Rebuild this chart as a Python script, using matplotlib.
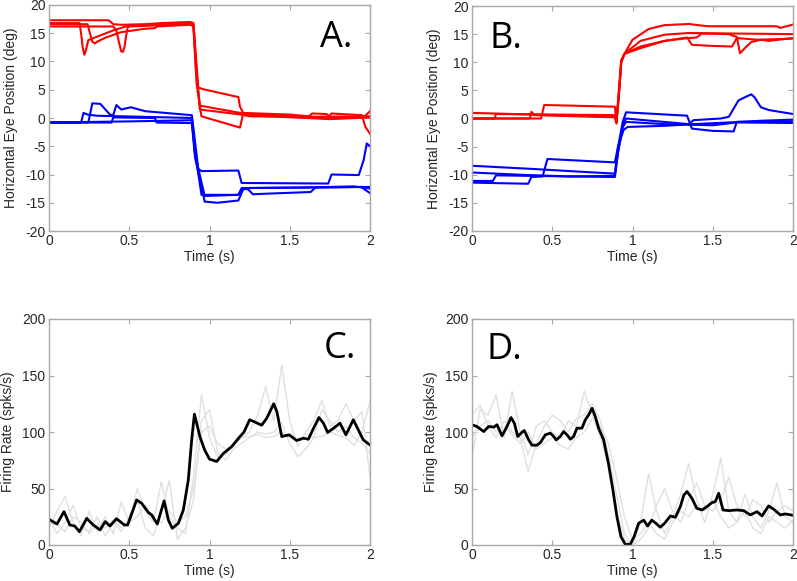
import numpy as np
import matplotlib
matplotlib.use("Agg")
import matplotlib.pyplot as plt

plt.rcParams['font.family'] = ['Liberation Sans', 'DejaVu Sans']

# ---------------- Panel A: eye position traces (deg) ----------------
ra1_t = [0, 0.37, 0.385, 0.40, 0.45, 0.60, 0.70, 0.88, 0.90, 0.915, 0.93, 0.96, 1.18, 1.19, 1.21, 1.50, 1.62, 1.64, 1.73, 1.75, 1.96, 2.0]
ra1_v = [17.3, 17.3, 17.0, 16.6, 16.5, 16.6, 16.8, 17.0, 16.8, 11.0, 5.4, 5.1, 3.7, 2.0, 0.9, 0.6, 0.3, 0.8, 0.7, 0.1, 0.1, 1.2]
ra2_t = [0, 0.19, 0.20, 0.21, 0.22, 0.23, 0.245, 0.30, 0.40, 0.50, 0.70, 0.88, 0.90, 0.915, 0.94, 1.19, 1.22, 1.50, 1.74, 1.76, 1.95, 1.97, 2.0]
ra2_v = [16.8, 16.8, 15.0, 12.5, 11.2, 12.0, 13.8, 14.4, 15.5, 16.4, 16.6, 16.7, 16.4, 9.0, 2.2, 0.9, 0.7, 0.3, 0.1, 0.8, 0.5, -1.5, -2.8]
ra3_t = [0, 0.24, 0.255, 0.27, 0.285, 0.30, 0.35, 0.45, 0.60, 0.66, 0.67, 0.88, 0.90, 0.92, 0.95, 1.19, 1.21, 1.30, 1.60, 1.75, 2.0]
ra3_v = [16.6, 16.6, 15.0, 13.5, 13.2, 13.5, 14.2, 15.2, 15.8, 15.9, 16.2, 16.5, 16.2, 6.0, 0.3, -1.7, 0.8, 0.4, 0.0, -0.2, 0.1]
ra4_t = [0, 0.40, 0.42, 0.435, 0.45, 0.46, 0.47, 0.48, 0.49, 0.50, 0.60, 0.88, 0.90, 0.92, 0.94, 1.20, 1.25, 1.60, 2.0]
ra4_v = [16.2, 16.2, 15.5, 13.5, 11.8, 11.7, 12.5, 14.5, 16.0, 16.2, 16.3, 16.7, 16.4, 8.0, 1.5, 0.6, 0.3, 0.2, 0.3]

ba1_t = [0, 0.20, 0.215, 0.24, 0.30, 0.60, 0.89, 0.91, 0.95, 1.18, 1.20, 1.60, 1.90, 1.95, 2.0]
ba1_v = [-0.8, -0.8, 0.9, 0.6, 0.4, 0.2, 0.0, -6.0, -13.6, -13.6, -12.4, -12.3, -12.1, -12.3, -13.3]
ba2_t = [0, 0.245, 0.27, 0.32, 0.38, 0.40, 0.42, 0.45, 0.51, 0.60, 0.89, 0.905, 0.93, 0.95, 1.18, 1.20, 1.74, 1.76, 1.93, 1.96, 1.98, 2.0]
ba2_v = [-0.8, -0.8, 2.6, 2.5, 0.6, 0.5, 2.3, 1.5, 1.9, 1.2, 0.5, -3.0, -9.0, -9.4, -9.3, -11.5, -11.6, -10.0, -10.1, -7.5, -4.5, -5.0]
ba3_t = [0, 0.39, 0.40, 0.66, 0.67, 0.89, 0.91, 0.97, 1.05, 1.18, 1.21, 1.24, 1.27, 1.35, 1.63, 1.66, 1.95, 2.0]
ba3_v = [-0.8, -0.8, 0.1, 0.0, -0.8, -0.9, -7.0, -14.8, -15.0, -14.6, -12.6, -12.6, -13.5, -13.4, -13.1, -12.3, -12.2, -12.5]
ba4_t = [0, 0.50, 0.89, 0.91, 0.97, 1.18, 1.21, 1.60, 2.0]
ba4_v = [-0.8, -0.6, -0.4, -6.5, -13.8, -13.6, -12.4, -12.3, -12.2]

# ---------------- Panel B: eye position traces (deg) ----------------
rb1_t = [0, 0.43, 0.45, 0.89, 0.90, 0.915, 0.93, 0.96, 1.00, 1.10, 1.20, 1.35, 1.47, 1.90, 1.92, 2.0]
rb1_v = [0.0, 0.0, 2.4, 2.1, -0.5, 5.0, 10.4, 12.0, 14.0, 15.9, 16.6, 16.8, 16.4, 16.4, 16.1, 16.7]
rb2_t = [0, 0.89, 0.90, 0.915, 0.93, 0.95, 1.05, 1.20, 1.35, 1.65, 2.0]
rb2_v = [1.0, 0.3, -0.9, 4.0, 10.0, 11.5, 13.8, 14.9, 15.2, 15.1, 15.0]
rb3_t = [0, 0.14, 0.15, 0.89, 0.90, 0.915, 0.93, 0.95, 1.05, 1.20, 1.35, 1.40, 1.43, 1.60, 1.65, 1.67, 1.70, 1.74, 1.80, 1.85, 2.0]
rb3_v = [0.0, 0.0, 0.8, 0.6, -0.6, 4.5, 10.2, 11.5, 12.8, 13.8, 14.3, 14.4, 15.1, 15.0, 14.5, 11.6, 12.5, 13.6, 14.0, 13.8, 14.3]
rb4_t = [0, 0.36, 0.37, 0.39, 0.89, 0.90, 0.915, 0.93, 0.95, 1.05, 1.20, 1.34, 1.37, 1.50, 1.62, 1.65, 1.78, 2.0]
rb4_v = [0.0, 0.0, 1.2, 0.6, 0.2, -0.7, 4.2, 10.0, 11.5, 12.5, 13.8, 14.4, 13.1, 12.9, 12.8, 14.3, 14.0, 14.2]

bb1_t = [0, 0.40, 0.70, 0.89, 0.91, 0.94, 0.96, 1.34, 1.37, 1.50, 1.63, 1.65, 2.0]
bb1_v = [-8.4, -9.0, -9.5, -9.8, -5.0, -0.5, 1.1, 0.5, -1.8, -2.2, -2.3, -0.6, -0.5]
bb2_t = [0, 0.30, 0.60, 0.89, 0.91, 0.94, 0.96, 1.35, 1.38, 1.55, 1.60, 1.66, 1.68, 1.74, 1.76, 1.80, 1.85, 2.0]
bb2_v = [-9.6, -10.0, -10.3, -10.2, -6.0, -1.0, 0.0, -1.0, -0.3, 0.0, 0.3, 3.2, 3.5, 4.3, 3.8, 2.0, 1.5, 0.8]
bb3_t = [0, 0.13, 0.15, 0.36, 0.89, 0.91, 0.94, 0.96, 1.20, 1.35, 1.50, 1.65, 2.0]
bb3_v = [-11.1, -11.1, -10.1, -10.2, -10.4, -6.0, -1.5, -0.6, -1.0, -1.1, -1.2, -0.7, -0.8]
bb4_t = [0, 0.35, 0.37, 0.44, 0.47, 0.89, 0.91, 0.945, 0.97, 1.20, 1.38, 1.60, 1.80, 2.0]
bb4_v = [-11.4, -11.6, -10.4, -10.3, -7.2, -7.8, -5.0, -2.0, -1.5, -1.3, -1.0, -0.7, -0.4, -0.2]

# ---------------- Panel C: firing rate (spks/s) ----------------
c_mean_t = [0, 0.05, 0.093, 0.13, 0.16, 0.19, 0.235, 0.276, 0.318, 0.35, 0.38, 0.42, 0.47, 0.49, 0.546,
            0.577, 0.62, 0.64, 0.675, 0.717, 0.744, 0.768, 0.806, 0.837, 0.868, 0.889, 0.906, 0.92, 0.94,
            0.97, 1.0, 1.045, 1.086, 1.138, 1.19, 1.215, 1.25, 1.28, 1.325, 1.356, 1.40, 1.42, 1.45, 1.497,
            1.543, 1.585, 1.616, 1.647, 1.682, 1.71, 1.736, 1.77, 1.813, 1.85, 1.896, 1.927, 1.958, 2.0]
c_mean_v = [22.7, 18.6, 29.5, 17.7, 16.8, 11.8, 23.6, 17.7, 13.3, 20.7, 16.8, 23.3, 17.7, 17.7, 39.9,
            36.9, 28.7, 26.6, 18.6, 39.0, 22.0, 14.8, 19.2, 31.0, 57.6, 93.0, 115.8, 107.8, 96.0,
            84.0, 76.0, 73.9, 81.0, 87.0, 96.0, 100.0, 110.8, 109.0, 106.0, 112.0, 125.0, 118.0, 96.0, 97.5,
            92.5, 94.5, 93.6, 103.0, 112.8, 107.8, 99.6, 103.0, 107.8, 97.5, 110.8, 102.0, 93.0, 88.6]
gray_t = [0.00, 0.05, 0.10, 0.15, 0.20, 0.25, 0.30, 0.35, 0.40, 0.45, 0.50, 0.55, 0.60, 0.65,
          0.70, 0.75, 0.80, 0.85, 0.90, 0.95, 1.00, 1.05, 1.10, 1.15, 1.20, 1.25, 1.30, 1.35,
          1.40, 1.45, 1.50, 1.55, 1.60, 1.65, 1.70, 1.75, 1.80, 1.85, 1.90, 1.95, 2.00]
c_trial1 = [15, 30, 43, 20, 8, 30, 12, 25, 10, 38, 20, 50, 30, 20, 56, 25, 15, 10, 60, 133, 95, 78, 80, 90,
            95, 100, 115, 140, 110, 159, 110, 87, 100, 110, 128, 105, 110, 125, 110, 118, 60]
c_trial2 = [25, 10, 20, 35, 15, 12, 25, 8, 20, 12, 25, 40, 15, 8, 30, 57, 5, 15, 40, 110, 120, 82, 75, 85,
            90, 95, 100, 98, 100, 108, 90, 78, 85, 95, 120, 110, 100, 105, 95, 90, 81]
c_trial3 = [20, 18, 12, 25, 20, 10, 18, 15, 22, 15, 20, 25, 35, 22, 20, 30, 20, 25, 50, 100, 105, 90, 85, 88,
            95, 96, 98, 95, 96, 100, 95, 92, 98, 95, 96, 100, 97, 95, 88, 100, 127]

# ---------------- Panel D: firing rate (spks/s) ----------------
d_mean_t = [0, 0.03, 0.073, 0.104, 0.135, 0.156, 0.187, 0.218, 0.243, 0.264, 0.285, 0.31, 0.326, 0.353,
            0.374, 0.405, 0.426, 0.457, 0.488, 0.509, 0.525, 0.55, 0.571, 0.592, 0.613, 0.633, 0.654,
            0.685, 0.706, 0.727, 0.748, 0.768, 0.789, 0.82, 0.85, 0.878, 0.903, 0.928, 0.955, 0.986,
            1.01, 1.038, 1.07, 1.094, 1.12, 1.146, 1.173, 1.2, 1.236, 1.267, 1.298, 1.32, 1.34, 1.37,
            1.40, 1.433, 1.464, 1.495, 1.516, 1.537, 1.564, 1.60, 1.65, 1.693, 1.734, 1.776, 1.807,
            1.848, 1.88, 1.921, 1.952, 2.0]
d_mean_v = [106.4, 104.9, 100.4, 104.9, 104.3, 106.4, 96.6, 104.9, 112.8, 107.8, 96.0, 99.6, 101.3, 93.0,
            88.3, 88.3, 90.7, 97.5, 99.0, 96.0, 93.0, 96.0, 100.4, 97.5, 93.6, 96.0, 103.4,
            103.4, 110.8, 115.2, 121.0, 113.7, 103.4, 93.0, 72.4, 48.7, 25.0, 7.4, 0.6, 0.6,
            7.4, 19.2, 22.0, 16.8, 22.0, 19.2, 15.7, 19.2, 25.7, 24.5, 34.0, 44.3, 47.3, 41.4,
            32.5, 31.0, 34.0, 37.5, 38.4, 45.8, 31.0, 30.4, 31.0, 30.4, 26.6, 29.5, 25.7,
            34.6, 31.6, 26.6, 27.5, 26.3]
d_trial1 = [78, 120, 115, 133, 95, 136, 100, 80, 105, 110, 100, 95, 110, 105, 136, 115, 95, 70, 30, 5, 0,
            20, 63, 30, 10, 25, 45, 72, 40, 20, 45, 77, 30, 20, 45, 25, 15, 30, 55, 25, 20]
d_trial2 = [115, 124, 105, 95, 110, 100, 95, 65, 90, 105, 115, 110, 100, 112, 115, 125, 110, 80, 45, 10, 0,
            5, 15, 35, 50, 30, 20, 40, 55, 35, 30, 40, 60, 35, 25, 40, 35, 20, 30, 35, 30]
d_trial3 = [95, 105, 110, 100, 105, 98, 90, 100, 85, 90, 95, 88, 85, 95, 100, 112, 105, 90, 60, 25, 5,
            10, 20, 10, 5, 20, 30, 25, 35, 30, 40, 25, 15, 20, 30, 15, 10, 25, 20, 15, 22]

x_ticks = [0, 0.5, 1, 1.5, 2]
x_ticklabels = ['0', '0.5', '1', '1.5', '2']
eye_ticks = [-20, -15, -10, -5, 0, 5, 10, 15, 20]
rate_ticks = [0, 50, 100, 150, 200]
panel_labels = ['A.', 'B.', 'C.', 'D.']

RED = '#ff0000'
BLUE = '#0000ff'
SPINE = '#a8a8a8'
TXT = '#262626'
GRAY = '#e0e0e0'

fig = plt.figure(figsize=(7.97, 5.81), dpi=100)
W, H = 797, 581
def ax_at(left, top, right, bottom):
    return fig.add_axes([left / W, 1 - bottom / H, (right - left) / W, (bottom - top) / H])

axA = ax_at(49, 5, 370, 231)
axB = ax_at(472, 6, 793, 231)
axC = ax_at(49, 319, 370, 545)
axD = ax_at(472, 319, 793, 545)

def style(ax, yticks, ylabel):
    ax.set_xlim(0, 2)
    ax.set_ylim(yticks[0], yticks[-1])
    ax.set_xticks(x_ticks)
    ax.set_xticklabels(x_ticklabels)
    ax.set_yticks(yticks)
    ax.set_yticklabels([str(v) for v in yticks])
    for s in ax.spines.values():
        s.set_color(SPINE)
        s.set_linewidth(1.0)
    ax.tick_params(direction='in', length=3.5, width=0.8, color=SPINE, labelcolor=TXT,
                   labelsize=10, top=True, right=True, pad=2.5)
    ax.set_xlabel('Time (s)', fontsize=10, color=TXT, labelpad=1)
    ax.set_ylabel(ylabel, fontsize=10, color=TXT, labelpad=5)

lw_eye = 1.5
for t, v in [(ra1_t, ra1_v), (ra2_t, ra2_v), (ra3_t, ra3_v), (ra4_t, ra4_v)]:
    axA.plot(t, v, color=RED, lw=lw_eye, solid_joinstyle='round')
for t, v in [(ba1_t, ba1_v), (ba2_t, ba2_v), (ba3_t, ba3_v), (ba4_t, ba4_v)]:
    axA.plot(t, v, color=BLUE, lw=lw_eye, solid_joinstyle='round')
for t, v in [(rb1_t, rb1_v), (rb2_t, rb2_v), (rb3_t, rb3_v), (rb4_t, rb4_v)]:
    axB.plot(t, v, color=RED, lw=lw_eye, solid_joinstyle='round')
for t, v in [(bb1_t, bb1_v), (bb2_t, bb2_v), (bb3_t, bb3_v), (bb4_t, bb4_v)]:
    axB.plot(t, v, color=BLUE, lw=lw_eye, solid_joinstyle='round')

for tr in (c_trial1, c_trial2, c_trial3):
    axC.plot(gray_t, tr, color=GRAY, lw=1.0, solid_joinstyle='round')
axC.plot(c_mean_t, c_mean_v, color='black', lw=2.0, solid_joinstyle='round')
for tr in (d_trial1, d_trial2, d_trial3):
    axD.plot(gray_t, tr, color=GRAY, lw=1.0, solid_joinstyle='round')
axD.plot(d_mean_t, d_mean_v, color='black', lw=2.0, solid_joinstyle='round')

style(axA, eye_ticks, 'Horizontal Eye Position (deg)')
style(axB, eye_ticks, 'Horizontal Eye Position (deg)')
style(axC, rate_ticks, 'Firing Rate (spks/s)')
style(axD, rate_ticks, 'Firing Rate (spks/s)')

lab_kw = dict(fontsize=26, family=['Open Sans', 'DejaVu Sans'], color='black', va='baseline', ha='left')
axA.text(0.845, 0.814, panel_labels[0], transform=axA.transAxes, **lab_kw)
axB.text(0.055, 0.814, panel_labels[1], transform=axB.transAxes, **lab_kw)
axC.text(0.855, 0.827, panel_labels[2], transform=axC.transAxes, **lab_kw)
axD.text(0.045, 0.823, panel_labels[3], transform=axD.transAxes, **lab_kw)

fig.savefig('out.png', dpi=100, facecolor='white')
